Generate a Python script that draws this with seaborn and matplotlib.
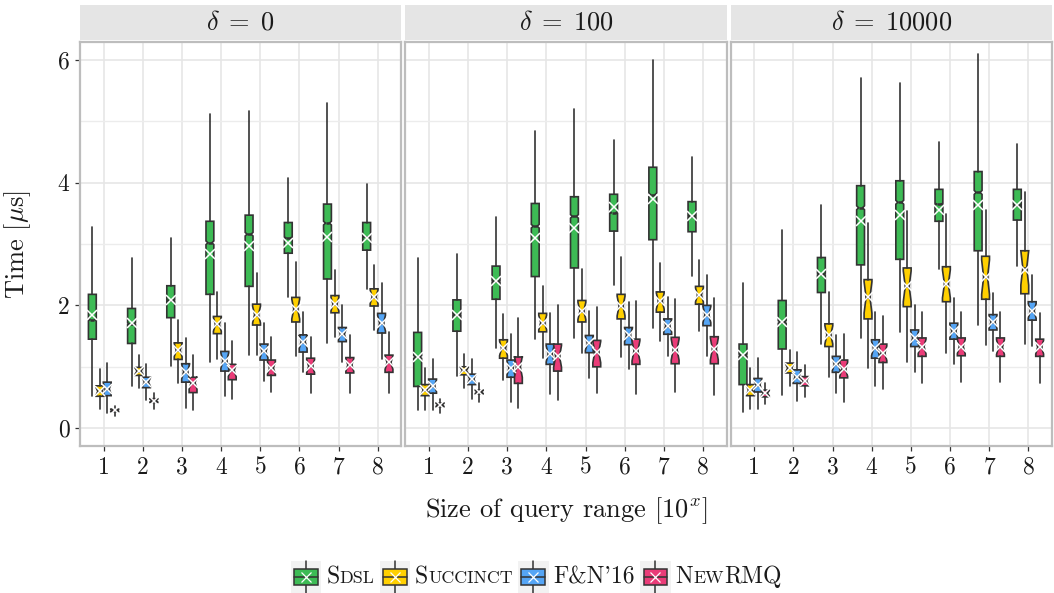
import numpy as np
import pandas as pd
import matplotlib
matplotlib.use("Agg")
import matplotlib.pyplot as plt
import seaborn as sns
from matplotlib.patches import Rectangle
from matplotlib.lines import Line2D
from matplotlib.offsetbox import DrawingArea, TextArea, HPacker, AnchoredOffsetbox

# query range sizes (10^x) and the delta values of the three facets
RANGES = [1, 2, 3, 4, 5, 6, 7, 8]
DELTAS = [0, 100, 10000]
SERIES = ["Sdsl", "Succinct", "F&N'16", "NewRMQ"]
COLORS = ["#3dbb55", "#ffd000", "#55a5f5", "#ea3c78"]
STATS = ["lo", "q1", "med", "q3", "hi", "mean"]

# per range: whisker low, lower hinge, median, upper hinge, whisker high, mean  [µs]
SDSL_D0 = [[0.53, 1.45, 1.77, 2.18, 3.27, 1.85], [0.68, 1.38, 1.70, 1.95, 2.78, 1.71],
           [1.01, 1.80, 2.08, 2.32, 3.10, 2.08], [1.07, 2.18, 3.02, 3.37, 5.11, 2.83],
           [1.19, 2.31, 3.16, 3.47, 5.16, 2.96], [2.13, 2.85, 3.10, 3.35, 4.07, 3.02],
           [1.38, 2.43, 3.34, 3.65, 5.29, 3.12], [2.26, 2.90, 3.12, 3.35, 3.98, 3.10]]
SUCC_D0 = [[0.31, 0.52, 0.60, 0.69, 0.96, 0.61], [0.65, 0.86, 0.93, 0.99, 1.19, 0.93],
           [0.74, 1.12, 1.27, 1.39, 1.76, 1.27], [1.12, 1.54, 1.69, 1.82, 2.22, 1.69],
           [1.19, 1.68, 1.85, 2.02, 2.52, 1.85], [1.17, 1.73, 1.94, 2.13, 2.71, 1.94],
           [1.48, 1.88, 2.02, 2.16, 2.58, 2.02], [1.60, 1.99, 2.14, 2.27, 2.66, 2.14]]
FN16_D0 = [[0.25, 0.53, 0.64, 0.75, 1.06, 0.64], [0.46, 0.66, 0.75, 0.83, 1.05, 0.75],
           [0.33, 0.75, 0.92, 1.05, 1.47, 0.92], [0.52, 0.93, 1.10, 1.25, 1.72, 1.10],
           [0.77, 1.11, 1.25, 1.37, 1.71, 1.25], [0.91, 1.24, 1.41, 1.52, 1.90, 1.41],
           [1.07, 1.41, 1.53, 1.64, 2.00, 1.53], [1.12, 1.55, 1.71, 1.87, 2.36, 1.71]]
NRMQ_D0 = [[0.20, 0.27, 0.29, 0.31, 0.36, 0.29], [0.31, 0.42, 0.45, 0.48, 0.57, 0.45],
           [0.30, 0.58, 0.74, 0.83, 1.19, 0.74], [0.48, 0.79, 0.94, 1.04, 1.42, 0.94],
           [0.59, 0.86, 0.98, 1.11, 1.48, 0.98], [0.57, 0.88, 1.01, 1.14, 1.49, 1.01],
           [0.57, 0.90, 1.03, 1.15, 1.52, 1.03], [0.57, 0.91, 1.07, 1.19, 1.57, 1.07]]

SDSL_D100 = [[0.30, 0.68, 1.16, 1.56, 2.78, 1.16], [0.85, 1.58, 1.85, 2.09, 2.83, 1.85],
             [1.31, 2.10, 2.39, 2.64, 3.44, 2.39], [1.45, 2.47, 3.29, 3.66, 4.84, 3.10],
             [1.47, 2.61, 3.45, 3.77, 5.20, 3.26], [2.33, 3.21, 3.51, 3.81, 4.70, 3.61],
             [1.64, 3.07, 3.80, 4.25, 6.00, 3.73], [2.48, 3.20, 3.45, 3.69, 4.41, 3.45]]
SUCC_D100 = [[0.30, 0.53, 0.62, 0.71, 0.98, 0.62], [0.66, 0.87, 0.94, 1.00, 1.21, 0.94],
             [0.79, 1.14, 1.30, 1.44, 1.86, 1.30], [1.14, 1.57, 1.72, 1.87, 2.31, 1.72],
             [1.22, 1.73, 1.91, 2.08, 2.59, 1.91], [1.16, 1.78, 1.99, 2.18, 2.79, 1.99],
             [1.42, 1.89, 2.07, 2.22, 2.69, 2.07], [1.59, 2.02, 2.17, 2.31, 2.74, 2.17]]
FN16_D100 = [[0.30, 0.57, 0.69, 0.80, 1.13, 0.69], [0.48, 0.71, 0.80, 0.88, 1.13, 0.80],
             [0.42, 0.83, 0.98, 1.11, 1.53, 0.98], [0.56, 1.04, 1.21, 1.37, 1.88, 1.21],
             [0.82, 1.23, 1.38, 1.51, 1.91, 1.38], [0.96, 1.36, 1.52, 1.64, 2.05, 1.52],
             [1.17, 1.53, 1.67, 1.78, 2.14, 1.67], [1.18, 1.67, 1.85, 2.00, 2.49, 1.85]]
NRMQ_D100 = [[0.25, 0.35, 0.38, 0.41, 0.48, 0.38], [0.42, 0.56, 0.59, 0.62, 0.74, 0.59],
             [0.33, 0.73, 1.00, 1.16, 1.79, 1.00], [0.46, 0.93, 1.17, 1.37, 2.00, 1.17],
             [0.58, 1.00, 1.24, 1.43, 1.98, 1.24], [0.55, 1.04, 1.26, 1.45, 2.07, 1.26],
             [0.59, 1.05, 1.28, 1.48, 2.10, 1.28], [0.54, 1.05, 1.29, 1.49, 2.12, 1.29]]

SDSL_D10K = [[0.27, 0.71, 1.19, 1.37, 2.37, 1.19], [0.54, 1.29, 1.73, 2.08, 3.23, 1.73],
             [1.37, 2.21, 2.51, 2.78, 3.64, 2.51], [1.47, 2.66, 3.59, 3.95, 5.71, 3.38],
             [1.56, 2.75, 3.68, 4.03, 5.63, 3.47], [2.59, 3.37, 3.65, 3.89, 4.66, 3.56],
             [1.68, 2.89, 3.84, 4.18, 6.10, 3.63], [2.64, 3.39, 3.63, 3.89, 4.63, 3.63]]
SUCC_D10K = [[0.31, 0.53, 0.62, 0.71, 0.98, 0.62], [0.69, 0.90, 0.98, 1.06, 1.28, 0.98],
             [0.83, 1.33, 1.52, 1.70, 2.22, 1.52], [0.98, 1.78, 2.13, 2.42, 3.34, 2.13],
             [1.07, 1.98, 2.31, 2.61, 3.53, 2.31], [1.22, 2.06, 2.35, 2.63, 3.49, 2.35],
             [1.35, 2.10, 2.46, 2.80, 3.56, 2.46], [1.37, 2.19, 2.61, 2.89, 3.84, 2.57]]
FN16_D10K = [[0.31, 0.59, 0.71, 0.81, 1.15, 0.71], [0.45, 0.73, 0.84, 0.95, 1.24, 0.84],
             [0.58, 0.91, 1.04, 1.17, 1.51, 1.04], [0.69, 1.14, 1.30, 1.44, 1.89, 1.30],
             [0.92, 1.33, 1.47, 1.60, 2.01, 1.47], [1.05, 1.45, 1.58, 1.71, 2.12, 1.58],
             [1.25, 1.60, 1.73, 1.85, 2.20, 1.73], [1.34, 1.76, 1.91, 2.06, 2.50, 1.91]]
NRMQ_D10K = [[0.40, 0.51, 0.57, 0.62, 0.73, 0.57], [0.50, 0.69, 0.77, 0.84, 1.03, 0.77],
             [0.42, 0.82, 0.96, 1.11, 1.53, 0.96], [0.64, 1.07, 1.22, 1.37, 1.83, 1.22],
             [0.73, 1.17, 1.33, 1.47, 1.90, 1.33], [0.76, 1.18, 1.33, 1.47, 1.90, 1.33],
             [0.75, 1.17, 1.32, 1.47, 1.90, 1.32], [0.74, 1.17, 1.32, 1.45, 1.88, 1.32]]

TABLES = {
    0: [SDSL_D0, SUCC_D0, FN16_D0, NRMQ_D0],
    100: [SDSL_D100, SUCC_D100, FN16_D100, NRMQ_D100],
    10000: [SDSL_D10K, SUCC_D10K, FN16_D10K, NRMQ_D10K],
}

rows = []
for delta, tables in TABLES.items():
    for name, table in zip(SERIES, tables):
        for rng, vals in zip(RANGES, table):
            rows.append({"delta": delta, "series": name, "rng": rng,
                         **dict(zip(STATS, vals))})
df = pd.DataFrame(rows)

# ---- style -----------------------------------------------------------------
sns.set_theme(style="white")
plt.rcParams.update({
    "font.family": ["cmr10"],
    "mathtext.fontset": "cm",
    "axes.formatter.use_mathtext": True,
    "axes.unicode_minus": False,
})
FS = 17          # tick labels and legend
FS_TITLE = 19    # strip labels and axis titles
TXT = "#1a1a1a"
DARK = "#333333"
NOTCH_FRAC = [0.025, 0.4, 0.4, 0.4]   # notch half-height relative to the IQR
DODGE = 0.19
BOX_W = 0.2


def draw_boxes(data, **kws):
    ax = plt.gca()
    for i, (name, col) in enumerate(zip(SERIES, COLORS)):
        sub = data[data["series"] == name].sort_values("rng")
        stats = []
        for _, r in sub.iterrows():
            half = NOTCH_FRAC[i] * (r.q3 - r.q1)
            stats.append(dict(med=r.med, q1=r.q1, q3=r.q3, whislo=r.lo, whishi=r.hi,
                              mean=r["mean"], cilo=r.med - half, cihi=r.med + half,
                              fliers=[]))
        pos = sub["rng"].to_numpy() + (i - 1.5) * DODGE
        ax.bxp(stats, positions=pos, widths=BOX_W, patch_artist=True,
               shownotches=True, showmeans=True, showcaps=False, showfliers=False,
               manage_ticks=False,
               boxprops=dict(facecolor=col, edgecolor=DARK, linewidth=1.2),
               whiskerprops=dict(color=DARK, linewidth=1.2),
               medianprops=dict(color=DARK, linewidth=1.8),
               meanprops=dict(marker="x", markeredgecolor="white",
                              markersize=7, markeredgewidth=1.1))


g = sns.FacetGrid(df, col="delta", col_order=DELTAS, sharey=True, despine=False,
                  height=4, aspect=0.8)
g.map_dataframe(draw_boxes)
fig = g.figure
fig.set_size_inches(10.54, 5.93)
fig.subplots_adjust(left=80 / 1054, right=1052 / 1054, top=1 - 42 / 593,
                    bottom=1 - 446 / 593, wspace=4 / 322)

for j, (ax, delta) in enumerate(zip(g.axes.flat, DELTAS)):
    ax.set_title("")
    ax.set_xlabel("")
    ax.set_ylabel("")
    ax.set_xlim(0.4, 8.6)
    ax.set_ylim(-0.29, 6.29)
    ax.set_xticks(RANGES)
    ax.set_xticklabels([str(r) for r in RANGES])
    ax.set_yticks([0, 2, 4, 6])
    ax.set_yticks([1, 3, 5], minor=True)
    ax.set_yticklabels(["0", "2", "4", "6"])
    ax.grid(True, which="major", color="#e6e6e6", linewidth=1.2)
    ax.grid(True, which="minor", axis="y", color="#ececec", linewidth=1.0)
    ax.set_axisbelow(True)
    ax.tick_params(axis="both", which="major", length=3.5, width=0.9, color=DARK,
                   labelsize=FS, labelcolor=TXT, pad=4, bottom=True, left=(j == 0))
    ax.tick_params(axis="y", which="minor", length=0)
    for sp in ax.spines.values():
        sp.set_color("#bdbdbd")
        sp.set_linewidth(1.6)
    # facet strip
    h = 35 / 404
    ax.add_patch(Rectangle((0, 1.004), 1, h, transform=ax.transAxes, clip_on=False,
                           facecolor="#e5e5e5", edgecolor="none"))
    ax.text(0.5, 1.004 + h / 2, rf"$\delta\;=\;{delta}$", transform=ax.transAxes,
            ha="center", va="center", fontsize=FS_TITLE, color=TXT)

fig.text(0.017, 1 - 245 / 593, r"Time [$\mu$s]", rotation=90, ha="center",
         va="center", fontsize=FS_TITLE, color=TXT)
fig.text(566 / 1054, 1 - 511 / 593, r"Size of query range [$10^x$]", ha="center",
         va="center", fontsize=FS_TITLE, color=TXT)


# ---- legend with small-caps labels ------------------------------------------
def legend_key(color):
    da = DrawingArea(22, 23, 0, 0)
    da.add_artist(Rectangle((0, 0), 22, 23, facecolor="#f2f2f2", edgecolor="none"))
    da.add_artist(Line2D([11, 11], [0, 23], color=DARK, linewidth=1.1))
    da.add_artist(Rectangle((2.5, 5.5), 17, 12, facecolor=color, edgecolor=DARK,
                            linewidth=1.1))
    da.add_artist(Line2D([2.5, 19.5], [11.5, 11.5], color=DARK, linewidth=1.1))
    da.add_artist(Line2D([11], [11.5], marker="x", markersize=7,
                         markeredgecolor="white", markeredgewidth=0.9, linestyle="none"))
    return da


def smallcaps(parts):
    big = dict(fontsize=FS, color=TXT)
    small = dict(fontsize=FS * 0.76, color=TXT)
    kids = [TextArea(t, textprops=(small if s else big)) for t, s in parts]
    return HPacker(children=kids, align="baseline", pad=0, sep=0)


LABEL_PARTS = [
    [("S", False), ("DSL", True)],
    [("S", False), ("UCCINCT", True)],
    [("F&N'16", False)],
    [("N", False), ("EW", True), ("RMQ", False)],
]
items = []
for col, parts in zip(COLORS, LABEL_PARTS):
    items.append(legend_key(col))
    items.append(smallcaps(parts))
pack = HPacker(children=items, align="center", pad=0, sep=3.6)
leg = AnchoredOffsetbox(loc="center", child=pack, pad=0, borderpad=0, frameon=False,
                        bbox_to_anchor=(536 / 1054, 1 - 577 / 593),
                        bbox_transform=fig.transFigure)
fig.add_artist(leg)

fig.savefig("out.png", dpi=100)
